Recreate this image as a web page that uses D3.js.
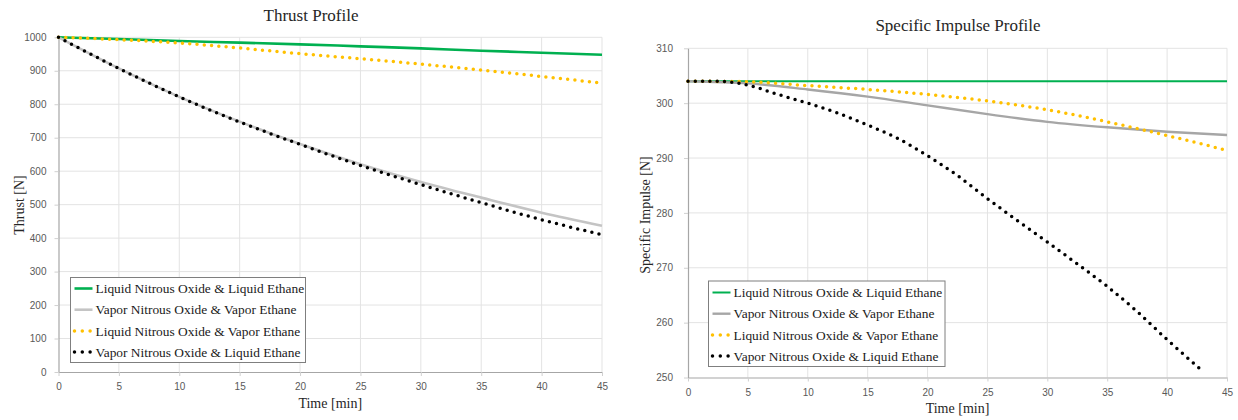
<!DOCTYPE html>
<html>
<head>
<meta charset="utf-8">
<script src="https://cdn.jsdelivr.net/npm/d3@7/dist/d3.min.js"></script>
<style>
  html, body { margin: 0; padding: 0; background: #fff; }
  svg { display: block; }
</style>
</head>
<body>
<svg id="chart" width="1238" height="420"></svg>
<script>
// ---------------- DATA ----------------
const seriesNames = [
  "Liquid Nitrous Oxide & Liquid Ethane",
  "Vapor Nitrous Oxide & Vapor Ethane",
  "Liquid Nitrous Oxide & Vapor Ethane",
  "Vapor Nitrous Oxide & Liquid Ethane"
];

const xTicks = [0, 5, 10, 15, 20, 25, 30, 35, 40, 45];

// Thrust profile (N) vs time (min)
const thrustTime = [0, 5, 10, 15, 20, 25, 30, 35, 40, 45];
const thrustLL = [1000, 995, 989, 984, 979, 973, 967, 960, 954, 948];
const thrustVV = [1000, 907, 822, 748, 681, 621, 568, 521, 476, 437];
const thrustLV = [1000, 993, 983, 968, 951, 936, 920, 902, 883, 863];
const thrustVL = [1000, 907, 822, 747, 680, 617, 560, 506, 455, 410];
const thrustYTicks = [0, 100, 200, 300, 400, 500, 600, 700, 800, 900, 1000];

// Specific impulse profile vs time (min)
const ispTime = [0, 5, 10, 15, 20, 25, 30, 35, 40, 45];
const ispLL = [304, 304, 304, 304, 304, 304, 304, 304, 304, 304];
const ispVV = [304, 303.6, 302.5, 301.2, 299.6, 298.0, 296.6, 295.6, 294.8, 294.2];
const ispLV = [304, 303.9, 303.2, 302.5, 301.6, 300.4, 298.8, 296.6, 294.1, 291.4];
const ispVLTime = [0, 2.5, 5, 7.5, 10, 12.5, 15, 17.5, 20, 22.5, 25, 27.5, 30, 32.5, 35, 37.5, 40, 43];
const ispVL = [304, 304, 303.3, 301.6, 300, 298.2, 296, 293.6, 290.4, 286.8, 282.6, 278.6, 274.7, 270.7, 266.6, 262, 256.9, 251.1];
const ispYTicks = [250, 260, 270, 280, 290, 300, 310];

// ---------------- DRAW ----------------
const svg = d3.select("#chart");
const serif = "'Liberation Serif', 'Times New Roman', serif";
const sans = "'Liberation Sans', Arial, sans-serif";

function zip(xs, ys) { return xs.map((x, i) => ({ x: x, y: ys[i] })); }

function drawPanel(cfg) {
  const g = svg.append("g");
  const x = d3.scaleLinear().domain([0, 45]).range([cfg.left, cfg.right]);
  const y = d3.scaleLinear().domain(cfg.yDomain).range([cfg.bottom, cfg.top]);

  // gridlines
  g.append("g").selectAll("line.v").data(xTicks.slice(1)).join("line")
    .attr("x1", d => x(d)).attr("x2", d => x(d))
    .attr("y1", cfg.top).attr("y2", cfg.bottom)
    .attr("stroke", "#e3e3e3").attr("stroke-width", 1);
  g.append("g").selectAll("line.h").data(cfg.yTicks.slice(1)).join("line")
    .attr("x1", cfg.left).attr("x2", cfg.right)
    .attr("y1", d => y(d)).attr("y2", d => y(d))
    .attr("stroke", "#e3e3e3").attr("stroke-width", 1);

  // axes
  const fmt = d3.format("d");
  const xa = g.append("g").attr("transform", `translate(0,${cfg.bottom})`)
    .call(d3.axisBottom(x).tickValues(xTicks).tickFormat(fmt).tickSize(4).tickPadding(7).tickSizeOuter(0));
  const ya = g.append("g").attr("transform", `translate(${cfg.left},0)`)
    .call(d3.axisLeft(y).tickValues(cfg.yTicks).tickFormat(fmt).tickSize(4).tickPadding(cfg.yPad).tickSizeOuter(0));
  [xa, ya].forEach(a => {
    a.select(".domain").attr("stroke", "#a6a6a6").attr("stroke-width", 1.2);
    a.selectAll(".tick line").attr("stroke", "#d0d0d0");
    a.selectAll("text").attr("fill", "#595959").style("font-family", sans).style("font-size", "10px");
  });

  // lines
  const line = d3.line().x(d => x(d.x)).y(d => y(d.y)).curve(d3.curveMonotoneX);
  cfg.series.forEach(s => {
    const p = g.append("path").datum(s.data)
      .attr("d", line).attr("fill", "none")
      .attr("stroke", s.color).attr("stroke-width", s.width);
    if (s.dotted) {
      p.attr("stroke-dasharray", "0 7.3").attr("stroke-linecap", "round");
    }
  });

  // titles
  g.append("text").attr("x", cfg.titleX).attr("y", cfg.titleY)
    .attr("text-anchor", "middle").style("font-family", serif).style("font-size", "17px")
    .attr("fill", "#262626").text(cfg.title);
  g.append("text").attr("x", (cfg.left + cfg.right) / 2).attr("y", cfg.xTitleY)
    .attr("text-anchor", "middle").style("font-family", serif).style("font-size", "14px")
    .attr("fill", "#262626").text("Time [min]");
  g.append("text")
    .attr("transform", `translate(${cfg.yTitleX},${cfg.yTitleY}) rotate(-90)`)
    .attr("text-anchor", "middle").style("font-family", serif).style("font-size", "14px")
    .attr("fill", "#262626").text(cfg.yTitle);

  // legend
  const lg = g.append("g");
  lg.append("rect").attr("x", cfg.legX).attr("y", cfg.legY)
    .attr("width", cfg.legW).attr("height", cfg.legH)
    .attr("fill", "#fff").attr("stroke", "#7f7f7f").attr("stroke-width", 1);
  cfg.series.forEach((s, i) => {
    const cy = cfg.legY + cfg.legRow0 + i * cfg.legRowH;
    const ln = lg.append("line")
      .attr("x1", cfg.legX + 4).attr("x2", cfg.legX + 22)
      .attr("y1", cy).attr("y2", cy)
      .attr("stroke", s.color).attr("stroke-width", s.dotted ? 3.5 : s.width);
    if (s.dotted) {
      ln.attr("x1", cfg.legX + 4).attr("x2", cfg.legX + 20)
        .attr("stroke-dasharray", "0 7.8").attr("stroke-linecap", "round");
    }
    lg.append("text").attr("x", cfg.legX + 25).attr("y", cy)
      .attr("dy", "0.35em")
      .style("font-family", serif).style("font-size", "13.4px")
      .attr("fill", "#1a1a1a").text(s.name);
  });
}

drawPanel({
  left: 58.5, right: 602, top: 37.3, bottom: 372,
  yDomain: [0, 1000], yTicks: thrustYTicks, yPad: 8,
  title: "Thrust Profile", titleX: 311, titleY: 21,
  xTitleY: 408, yTitle: "Thrust [N]", yTitleX: 24, yTitleY: 205,
  legX: 70.5, legY: 277.5, legW: 235, legH: 85, legRow0: 11, legRowH: 21.2,
  series: [
    { name: seriesNames[0], data: zip(thrustTime, thrustLL), color: "#00b050", width: 2.6 },
    { name: seriesNames[1], data: zip(thrustTime, thrustVV), color: "#c4c4c4", width: 2.6 },
    { name: seriesNames[2], data: zip(thrustTime, thrustLV), color: "#ffc000", width: 3.5, dotted: true },
    { name: seriesNames[3], data: zip(thrustTime, thrustVL), color: "#000000", width: 3.5, dotted: true }
  ]
});

drawPanel({
  left: 688, right: 1227, top: 48.3, bottom: 377.5,
  yDomain: [250, 310], yTicks: ispYTicks, yPad: 11,
  title: "Specific Impulse Profile", titleX: 958, titleY: 31,
  xTitleY: 413, yTitle: "Specific Impulse [N]", yTitleX: 650, yTitleY: 215,
  legX: 708.5, legY: 281, legW: 236.5, legH: 85.5, legRow0: 11.5, legRowH: 21.2,
  series: [
    { name: seriesNames[0], data: zip(ispTime, ispLL), color: "#00b050", width: 2 },
    { name: seriesNames[1], data: zip(ispTime, ispVV), color: "#a6a6a6", width: 2.4 },
    { name: seriesNames[2], data: zip(ispTime, ispLV), color: "#ffc000", width: 3.5, dotted: true },
    { name: seriesNames[3], data: zip(ispVLTime, ispVL), color: "#000000", width: 3.5, dotted: true }
  ]
});
</script>
</body>
</html>
